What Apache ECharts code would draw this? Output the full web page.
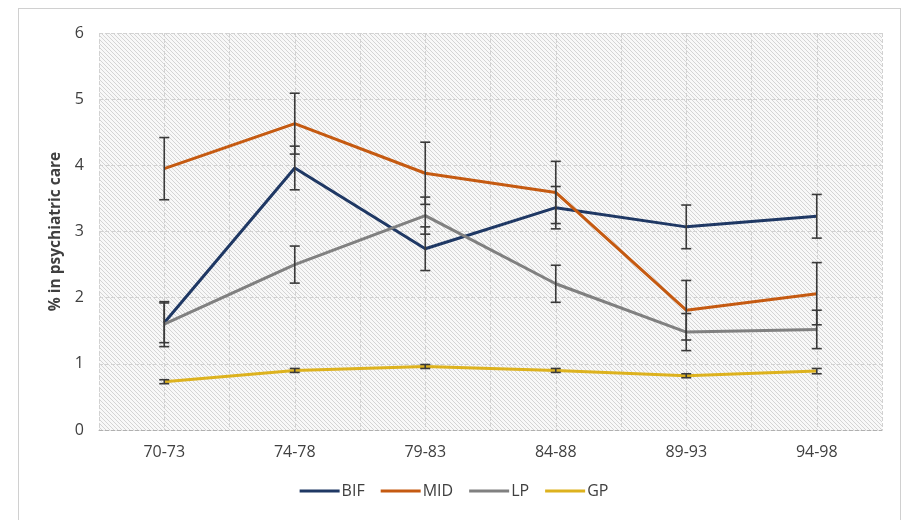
<!DOCTYPE html>
<html>
<head>
<meta charset="utf-8">
<script src="https://cdn.jsdelivr.net/npm/echarts@6/dist/echarts.min.js"></script>
<style>
html,body{margin:0;padding:0;background:#fff;}
#frame{position:absolute;left:18px;top:8px;width:883px;height:520px;border:1px solid #d0d0d0;box-sizing:border-box;}
#chart{position:absolute;left:0;top:0;width:908px;height:520px;}
</style>
</head>
<body>
<div id="frame"></div>
<div id="chart"></div>
<script>
const categories = ['70-73','74-78','79-83','84-88','89-93','94-98'];
const yTicks = [0,1,2,3,4,5,6];
const BIF = [1.62, 3.96, 2.74, 3.36, 3.07, 3.23];
const BIF_err = [0.30, 0.33, 0.33, 0.32, 0.33, 0.33];
const MID = [3.95, 4.63, 3.88, 3.59, 1.81, 2.06];
const MID_err = [0.47, 0.46, 0.47, 0.47, 0.45, 0.47];
const LP = [1.60, 2.50, 3.24, 2.21, 1.48, 1.52];
const LP_err = [0.34, 0.28, 0.28, 0.28, 0.28, 0.29];
const GP = [0.73, 0.90, 0.96, 0.90, 0.82, 0.89];
const GP_err = [0.03, 0.03, 0.03, 0.03, 0.03, 0.04];

const seriesDefs = [
  {name:'BIF', values:BIF, err:BIF_err, color:'#1f3864'},
  {name:'MID', values:MID, err:MID_err, color:'#c55a11'},
  {name:'LP',  values:LP,  err:LP_err,  color:'#808080'},
  {name:'GP',  values:GP,  err:GP_err,  color:'#ddb21e'}
];

// hatch pattern
const pc = document.createElement('canvas');
pc.width = 4; pc.height = 4;
const pctx = pc.getContext('2d');
pctx.fillStyle = '#f8f8f8';
pctx.fillRect(0,0,4,4);
pctx.strokeStyle = '#d4d4d4';
pctx.lineWidth = 1;
pctx.beginPath();
for (let k=-4;k<=8;k+=4){ pctx.moveTo(k,0); pctx.lineTo(k+4,4); }
pctx.stroke();

const chart = echarts.init(document.getElementById('chart'), null, {renderer:'canvas'});
const font = "'Open Sans', sans-serif";

const series = [];
seriesDefs.forEach(s => {
  series.push({
    name: s.name, type:'line', data: s.values, xAxisIndex:0, yAxisIndex:0,
    symbol:'none', lineStyle:{color:s.color, width:3}, itemStyle:{color:s.color},
    z: 3
  });
});
seriesDefs.forEach(s => {
  series.push({
    type:'custom', xAxisIndex:0, yAxisIndex:0, z: 4, silent:true,
    data: s.values.map((v,i)=>[i, v - s.err[i], v + s.err[i]]),
    renderItem: function(params, api){
      const lo = api.coord([api.value(0), api.value(1)]);
      const hi = api.coord([api.value(0), api.value(2)]);
      const w = 5;
      const st = {stroke:'#3a3a3a', lineWidth:1.6};
      return {type:'group', children:[
        {type:'line', shape:{x1:lo[0],y1:lo[1],x2:hi[0],y2:hi[1]}, style:st},
        {type:'line', shape:{x1:lo[0]-w,y1:lo[1],x2:lo[0]+w,y2:lo[1]}, style:st},
        {type:'line', shape:{x1:hi[0]-w,y1:hi[1],x2:hi[0]+w,y2:hi[1]}, style:st}
      ]};
    }
  });
});

chart.setOption({
  animation:false,
  backgroundColor:'transparent',
  textStyle:{fontFamily:font},
  grid:{left:99, right:26, top:33, bottom:90, show:true,
        backgroundColor:{image:pc, repeat:'repeat'}, borderWidth:0},
  legend:{
    bottom:16, left:'center', itemWidth:40, itemHeight:3, itemGap:16,
    icon:'rect',
    textStyle:{fontFamily:font, fontSize:16, color:'#404040', padding:[0,0,0,-3]},
    data: seriesDefs.map(s=>({name:s.name, itemStyle:{color:s.color}}))
  },
  xAxis:[
    {type:'category', data:categories, boundaryGap:true,
     axisLine:{show:true, lineStyle:{color:'#b0b0b0', width:1, type:'dashed'}},
     axisTick:{show:false},
     axisLabel:{fontFamily:font, fontSize:16, color:'#404040', margin:14},
     splitLine:{show:false}},
    {type:'value', min:0, max:12, interval:1, show:true, position:'top',
     axisLine:{show:false}, axisTick:{show:false}, axisLabel:{show:false},
     splitLine:{show:true, lineStyle:{color:'#d2d2d2', type:'dashed', width:1}}}
  ],
  yAxis:{type:'value', min:yTicks[0], max:yTicks[yTicks.length-1], interval:1,
    name:'% in psychiatric care', nameLocation:'middle', nameGap:29,
    nameTextStyle:{fontFamily:font, fontSize:15.5, fontWeight:'bold', color:'#404040'},
    axisLine:{show:false}, axisTick:{show:false},
    axisLabel:{fontFamily:font, fontSize:16, color:'#404040', margin:15,
      formatter: v => yTicks.includes(v) ? String(v) : ''},
    splitLine:{show:true, lineStyle:{color:'#d2d2d2', type:'dashed', width:1}}
  },
  series: series
});
</script>
</body>
</html>
